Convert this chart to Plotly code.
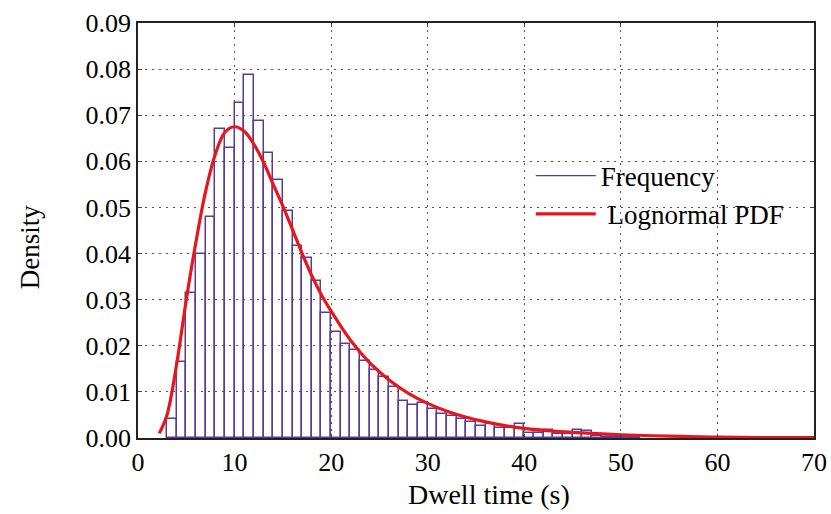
import plotly.graph_objects as go

# Histogram (1 s bins, left edges) and densities
bin_left = list(range(3, 52))
density = [0.0041, 0.0164, 0.0315, 0.0400, 0.0480, 0.0670, 0.0628, 0.0726, 0.0787, 0.0688,
           0.0617, 0.0559, 0.0493, 0.0417, 0.0390, 0.0340, 0.0271, 0.0229, 0.0204, 0.0191,
           0.0168, 0.0148, 0.0132, 0.0110, 0.0080, 0.0072, 0.0075, 0.0062, 0.0052, 0.0048,
           0.0041, 0.0035, 0.0025, 0.0030, 0.0021, 0.0022, 0.0030, 0.0010, 0.0010, 0.0017,
           0.0009, 0.0009, 0.0017, 0.0015, 0.0004, 0.0003, 0.0003, 0.0002, 0.0002]

# Lognormal PDF curve points
pdf_x = [2.2, 3, 4, 5, 6, 7, 8, 9, 10, 11, 12, 13, 14, 15, 16, 17, 18, 19, 20, 22, 24, 26,
         28, 30, 32, 34, 36, 38, 40, 43, 46, 50, 55, 60, 65, 70]
pdf_y = [0.0010, 0.0050, 0.0160, 0.0300, 0.0425, 0.0535, 0.0615, 0.0663, 0.0675, 0.0665,
         0.0637, 0.0598, 0.0550, 0.0503, 0.0452, 0.0400, 0.0352, 0.0310, 0.0275, 0.0212,
         0.0163, 0.0126, 0.0097, 0.0075, 0.0058, 0.0045, 0.0035, 0.0027, 0.0021, 0.0015,
         0.0011, 0.0007, 0.0004, 0.0002, 0.0001, 0.0001]

y_ticks = [0.00, 0.01, 0.02, 0.03, 0.04, 0.05, 0.06, 0.07, 0.08, 0.09]
x_ticks = [0, 10, 20, 30, 40, 50, 60, 70]

purple = "#5a3c96"
red = "#e8161b"
font = "Liberation Serif"
grid = "#555555"

fig = go.Figure()
fig.add_trace(go.Bar(
    x=[b + 0.5 for b in bin_left], y=density, width=1,
    marker=dict(color="rgba(255,255,255,0)", line=dict(color=purple, width=1.5)),
    showlegend=False, name="Frequency"))
fig.add_trace(go.Scatter(
    x=[None], y=[None], mode="lines", line=dict(color=purple, width=1.2),
    name="Frequency"))
fig.add_trace(go.Scatter(
    x=pdf_x, y=pdf_y, mode="lines", line=dict(color=red, width=3.2, shape="spline"),
    name=" Lognormal PDF"))

fig.update_layout(
    width=831, height=514,
    margin=dict(l=138, r=17, t=23, b=76),
    paper_bgcolor="white", plot_bgcolor="white",
    font=dict(family=font, size=26, color="black"),
    bargap=0,
    legend=dict(x=0.581, y=0.69, xanchor="left", yanchor="top",
                bgcolor="rgba(255,255,255,0)", font=dict(size=27),
                itemwidth=60, tracegroupgap=0),
    xaxis=dict(range=[0, 70], tickvals=x_ticks, ticks="inside", ticklen=4,
               showline=True, linecolor="#222", linewidth=1.5, mirror="ticks",
               showgrid=True, gridcolor=grid, griddash="2px,5px", gridwidth=1.2,
               zeroline=False, tickfont=dict(size=26), automargin=False),
    yaxis=dict(range=[0, 0.09], tickvals=y_ticks, tickformat=".2f", ticks="inside",
               ticklen=4, showline=True, linecolor="#222", linewidth=1.5,
               mirror="ticks", showgrid=True, gridcolor=grid, griddash="2px,5px",
               gridwidth=1.2, zeroline=False, tickfont=dict(size=26), automargin=False),
    annotations=[
        dict(text="Dwell time (s)", xref="paper", yref="paper", x=0.5195, y=-0.137,
             xanchor="center", yanchor="middle", showarrow=False,
             font=dict(size=28)),
        dict(text="Density", xref="paper", yref="paper", x=-0.1595, y=0.46,
             xanchor="center", yanchor="middle", showarrow=False, textangle=-90,
             font=dict(size=27)),
    ],
)

fig.write_html("out.html")
